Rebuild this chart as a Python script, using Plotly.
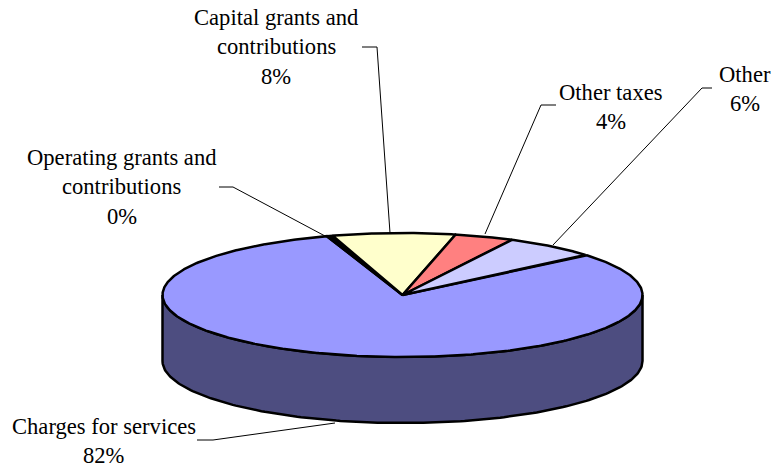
import numpy as np
import plotly.graph_objects as go

# Data, clockwise from the start of the first slice
categories = ["Charges for services", "Operating grants and contributions",
              "Capital grants and contributions", "Other taxes", "Other"]
values = [81.5, 0.4, 8.3, 4.0, 6.3]
percent_labels = ["82%", "0%", "8%", "4%", "6%"]
label_lines = [["Charges for services"],
               ["Operating grants and", "contributions"],
               ["Capital grants and", "contributions"],
               ["Other taxes"],
               ["Other"]]
colors = ["#9999FF", "#000000", "#FFFFCC", "#FF8080", "#CCCCFF"]

# Layout / style
W, H = 775, 471
CX, CY, RX, RY, DEPTH = 402.5, 295, 240, 62, 66
START_DEG = 40.3
WALL = "#4D4D80"
LW = 2.5
FONT = dict(family="Liberation Serif", size=22.6, color="black")
LINE_GAP = 29.5
label_pos = [(104, 426), (121.5, 157), (276, 17), (611, 92), (745, 74)]
leaders = [[(197, 440), (213, 440), (335, 423)],
           [(219, 187), (233, 187), (325, 236)],
           [(362, 47), (377, 47), (390, 233)],
           [(556, 105), (541, 105), (485, 234)],
           [(712, 88), (702, 88), (553, 245)]]


def ell(t_deg, dy=0.0):
    t = np.radians(t_deg)
    return CX + RX * np.cos(t), CY - RY * np.sin(t) + dy


fig = go.Figure()

# Side wall (front half of the disc)
ts = np.linspace(180, 360, 181)
x1, y1 = ell(ts)
x2, y2 = ell(ts[::-1], DEPTH)
fig.add_trace(go.Scatter(x=np.r_[x1, x2, x1[0]], y=np.r_[y1, y2, y1[0]],
                         mode="lines", fill="toself", fillcolor=WALL,
                         line=dict(color="black", width=LW), hoverinfo="skip"))

# Top face slices
total = sum(values)
angle = START_DEG
for name, v, col in zip(categories, values, colors):
    sweep = v / total * 360
    arc = np.linspace(angle, angle - sweep, max(int(sweep * 2), 2) + 1)
    ax, ay = ell(arc)
    fig.add_trace(go.Scatter(x=np.r_[CX, ax, CX], y=np.r_[CY, ay, CY],
                             mode="lines", fill="toself", fillcolor=col, name=name,
                             line=dict(color="black", width=LW), hoverinfo="name"))
    angle -= sweep

# Leader lines
shapes = []
for pts in leaders:
    path = "M " + " L ".join(f"{x} {y}" for x, y in pts)
    shapes.append(dict(type="path", path=path, xref="x", yref="y",
                       line=dict(color="black", width=1)))

# Labels
annotations = []
for lines, pct, (lx, ly) in zip(label_lines, percent_labels, label_pos):
    for i, txt in enumerate(lines + [pct]):
        annotations.append(dict(x=lx, y=ly + i * LINE_GAP, text=txt, showarrow=False,
                                xref="x", yref="y", xanchor="center", yanchor="middle",
                                font=FONT))

fig.update_layout(
    width=W, height=H, margin=dict(l=0, r=0, t=0, b=0),
    paper_bgcolor="white", plot_bgcolor="white", showlegend=False,
    xaxis=dict(range=[0, W], visible=False, fixedrange=True),
    yaxis=dict(range=[H, 0], visible=False, fixedrange=True),
    shapes=shapes, annotations=annotations,
)
fig.write_html("out.html", config=dict(displayModeBar=False),
               post_script="document.body.style.margin='0';document.documentElement.style.overflow='hidden';")
